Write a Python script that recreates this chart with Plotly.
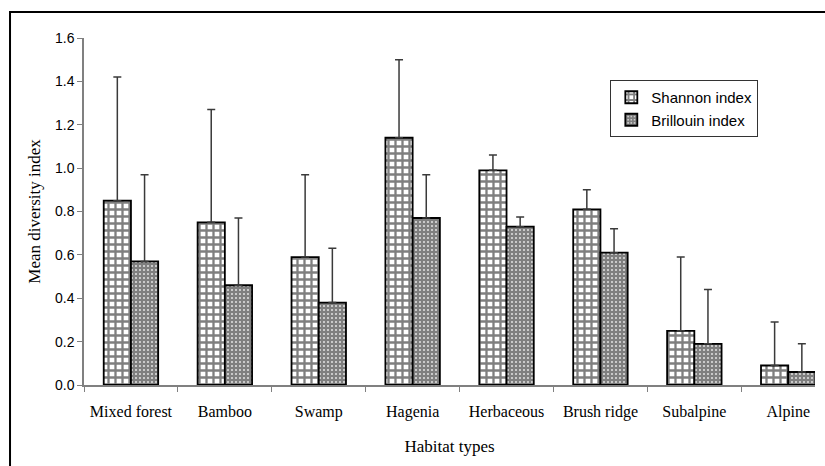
import plotly.graph_objects as go

# Habitat categories and mean diversity indices with their (upper) standard deviations
habitats = ["Mixed forest", "Bamboo", "Swamp", "Hagenia", "Herbaceous",
            "Brush ridge", "Subalpine", "Alpine"]
shannon = [0.85, 0.75, 0.59, 1.14, 0.99, 0.81, 0.25, 0.09]
shannon_sd = [0.57, 0.52, 0.38, 0.36, 0.07, 0.09, 0.34, 0.20]
brillouin = [0.57, 0.46, 0.38, 0.77, 0.73, 0.61, 0.19, 0.06]
brillouin_sd = [0.40, 0.31, 0.25, 0.20, 0.045, 0.11, 0.25, 0.13]
y_ticks = [0.0, 0.2, 0.4, 0.6, 0.8, 1.0, 1.2, 1.4, 1.6]

serif = "Liberation Serif, Times New Roman, serif"
sans = "Liberation Sans, Arial, sans-serif"

err_style = dict(type="data", symmetric=False,
                 color="#3a3a3a", thickness=1.5, width=4)

fig = go.Figure()
fig.add_trace(go.Bar(
    name="Shannon index", x=habitats, y=shannon,
    error_y=dict(err_style, array=shannon_sd, arrayminus=[0] * len(shannon)),
    marker=dict(color="white",
                line=dict(color="black", width=1.8),
                pattern=dict(shape="+", fgcolor="black", bgcolor="white",
                             size=7, solidity=0.55)),
))
fig.add_trace(go.Bar(
    name="Brillouin index", x=habitats, y=brillouin,
    error_y=dict(err_style, array=brillouin_sd, arrayminus=[0] * len(brillouin)),
    marker=dict(color="white",
                line=dict(color="black", width=1.8),
                pattern=dict(shape="+", fgcolor="black", bgcolor="white",
                             size=4, solidity=0.85)),
))

# Outer chart frame
fig.add_shape(type="rect", xref="paper", yref="paper",
              x0=-0.1012, x1=1.3, y0=-0.5, y1=1.0749,
              line=dict(color="black", width=2), fillcolor="rgba(0,0,0,0)",
              layer="below")

fig.update_layout(
    width=825, height=466,
    margin=dict(l=84, r=10, t=38, b=81),
    paper_bgcolor="white", plot_bgcolor="white",
    barmode="group", bargap=0.42, bargroupgap=0,
    showlegend=True,
    legend=dict(x=0.72, y=0.879, xanchor="left", yanchor="top",
                bordercolor="#333333", borderwidth=1, bgcolor="white",
                font=dict(family=sans, size=15, color="black"),
                tracegroupgap=0, itemwidth=30),
    xaxis=dict(
        range=[-0.5, 7.285],
        showline=True, linecolor="#808080", linewidth=1.5,
        ticks="outside", tickson="boundaries", ticklen=5, tickcolor="#808080",
        tickfont=dict(family=serif, size=16, color="black"),
        ticklabelstandoff=11,
        title=dict(text="Habitat types", font=dict(family=serif, size=17, color="black"),
                   standoff=20),
        showgrid=False,
    ),
    yaxis=dict(
        range=[0, 1.6],
        tickvals=y_ticks, tickformat=".1f",
        showline=True, linecolor="#808080", linewidth=1.5,
        ticks="outside", ticklen=5, tickcolor="#808080",
        tickfont=dict(family=sans, size=14, color="black"),
        title=dict(text="Mean diversity index", font=dict(family=serif, size=17, color="black"),
                   standoff=10),
        showgrid=False, zeroline=False,
    ),
)

fig.write_html("out.html")
